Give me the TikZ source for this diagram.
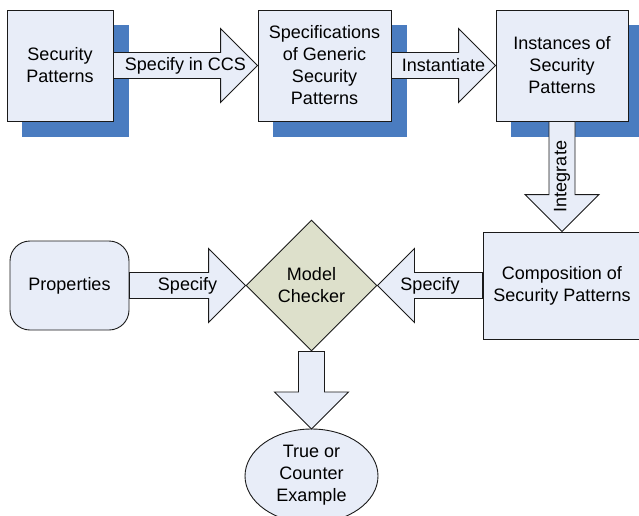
\documentclass[tikz,border=0pt]{standalone}
\usepackage{fontspec}
\setmainfont{Liberation Sans}
\usetikzlibrary{shapes.geometric,calc,backgrounds}

\definecolor{boxfill}{HTML}{E8EDF8}
\definecolor{shadowblue}{HTML}{4A7CC0}
\definecolor{checkerfill}{HTML}{DDE0CB}
\definecolor{edgeline}{HTML}{1A1A1A}

\tikzset{
  txt/.style={font=\fontsize{18}{22}\selectfont, align=center},
  box/.style={txt, draw=edgeline, line width=0.9pt, fill=boxfill, inner sep=0pt},
  arrowbody/.style={draw=edgeline, line width=0.9pt, fill=boxfill, line join=miter},
  shadowbox/.style={fill=shadowblue}
}

% block arrow: #1 from, #2 to, #3 label node name, #4 label text, #5 label rotation
\newcommand\blockarrow[5]{%
  \coordinate (hb) at ($(#2)!37pt!(#1)$);
  \filldraw[arrowbody] ($(#1)!13pt!90:(#2)$) -- ($(hb)!13pt!90:(#2)$)
    -- ($(hb)!37pt!90:(#2)$) -- (#2) -- ($(hb)!37pt!-90:(#2)$)
    -- ($(hb)!13pt!-90:(#2)$) -- ($(#1)!13pt!-90:(#2)$) -- cycle;
  \node[txt, rotate=#5] (#3) at ($(#1)!0.5!(#2)$) {#4};
}

\begin{document}
\begin{tikzpicture}[x=1pt, y=-1pt]
  \useasboundingbox (0,0) rectangle (639,515);

  % top row of pattern stages
  \node[box, minimum width=106pt, minimum height=111pt] (sp) at (60,65.5) {Security\\Patterns};
  \node[box, minimum width=133pt, minimum height=111pt] (gen) at (324.5,65.5) {Specifications\\of Generic\\Security\\Patterns};
  \node[box, minimum width=132pt, minimum height=111pt] (inst) at (562,65.5) {Instances of\\Security\\Patterns};

  % composition, properties and the checker
  \node[box, minimum width=158pt, minimum height=107pt] (comp) at (562,285.5) {Composition of\\Security Patterns};
  \node[box, rounded corners=20pt, minimum width=119pt, minimum height=89pt] (prop) at (69.5,285.5) {Properties};
  \node[box, shape=diamond, fill=checkerfill, minimum width=131pt, minimum height=131pt] (mc) at (311.5,285.5) {Model\\Checker};

  % result: text node, outline drawn with fixed radii (runs past the lower edge)
  \node[txt, inner sep=0pt] (res) at (311.5,475) {True or\\Counter\\Example};
  \coordinate (resc) at (311.5,476);
  \coordinate (restop) at ([yshift=47pt]resc);

  \begin{scope}[on background layer]
    % drop shadows of the top row
    \foreach \n in {sp,gen,inst}
      \fill[shadowbox] ([shift={(15.5,15.5)}]\n.south west) rectangle ([shift={(15.5,15.5)}]\n.north east);
    % result ellipse
    \filldraw[draw=edgeline, line width=0.9pt, fill=boxfill] (resc) ellipse [x radius=66.5pt, y radius=47pt];
  \end{scope}

  % block arrows between the stages
  \blockarrow{sp.east}{gen.west}{l1}{Specify in CCS}{0}
  \blockarrow{gen.east}{inst.west}{l2}{Instantiate}{0}
  \blockarrow{inst.south}{comp.north}{l3}{Integrate}{90}
  \blockarrow{prop.east}{mc.west}{l4}{Specify}{0}
  \blockarrow{comp.west}{mc.east}{l5}{Specify}{0}
  \blockarrow{mc.south}{restop}{l6}{}{0}
\end{tikzpicture}
\end{document}
